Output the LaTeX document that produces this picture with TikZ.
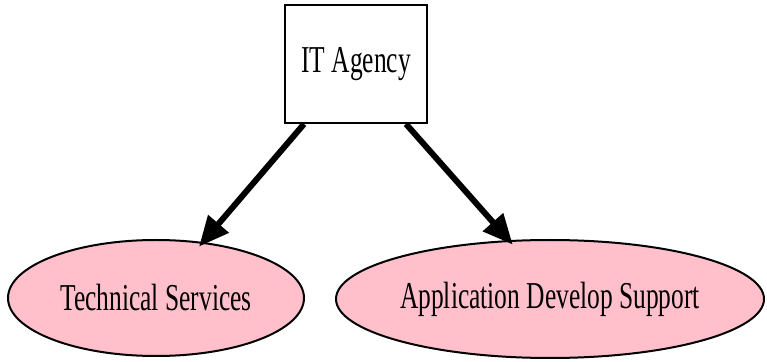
\documentclass[tikz,border=0pt]{standalone}
\usepackage{fontspec}
\setmainfont{Liberation Serif}
\usetikzlibrary{shapes.geometric,arrows.meta}
\definecolor{nodepink}{RGB}{255,192,203}
\newcommand{\narrowtext}[1]{\scalebox{0.67}[1]{#1}}
\begin{document}
\begin{tikzpicture}[x=1pt,y=1pt,
  lbl/.style={font=\fontsize{38}{40}\selectfont, inner sep=0pt},
  agencybox/.style={draw=black, line width=2pt, fill=white, minimum width=142pt, minimum height=118pt, inner sep=0pt},
  unitell/.style={ellipse, draw=black, line width=2pt, fill=nodepink, inner sep=0pt},
  link/.style={line width=6pt, -{Triangle[length=30pt,width=26pt]}, shorten >=-6pt}
]
\useasboundingbox (0,0) rectangle (767,361);
\node[agencybox] (it) at (356,297) {};
\node[lbl] at (it.center) {\narrowtext{IT Agency}};
\node[unitell, minimum width=296pt, minimum height=116pt] (ts) at (156,63) {};
\node[lbl] at (ts.center) {\narrowtext{Technical Services}};
\node[unitell, minimum width=428pt, minimum height=118pt] (ads) at (550,62) {};
\node[lbl] at (ads.center) {\narrowtext{Application Develop Support}};
\draw[link] ([xshift=20pt]it.south west) -- (ts.50);
\draw[link] ([xshift=-22pt]it.south east) -- (ads.125);
\end{tikzpicture}
\end{document}
